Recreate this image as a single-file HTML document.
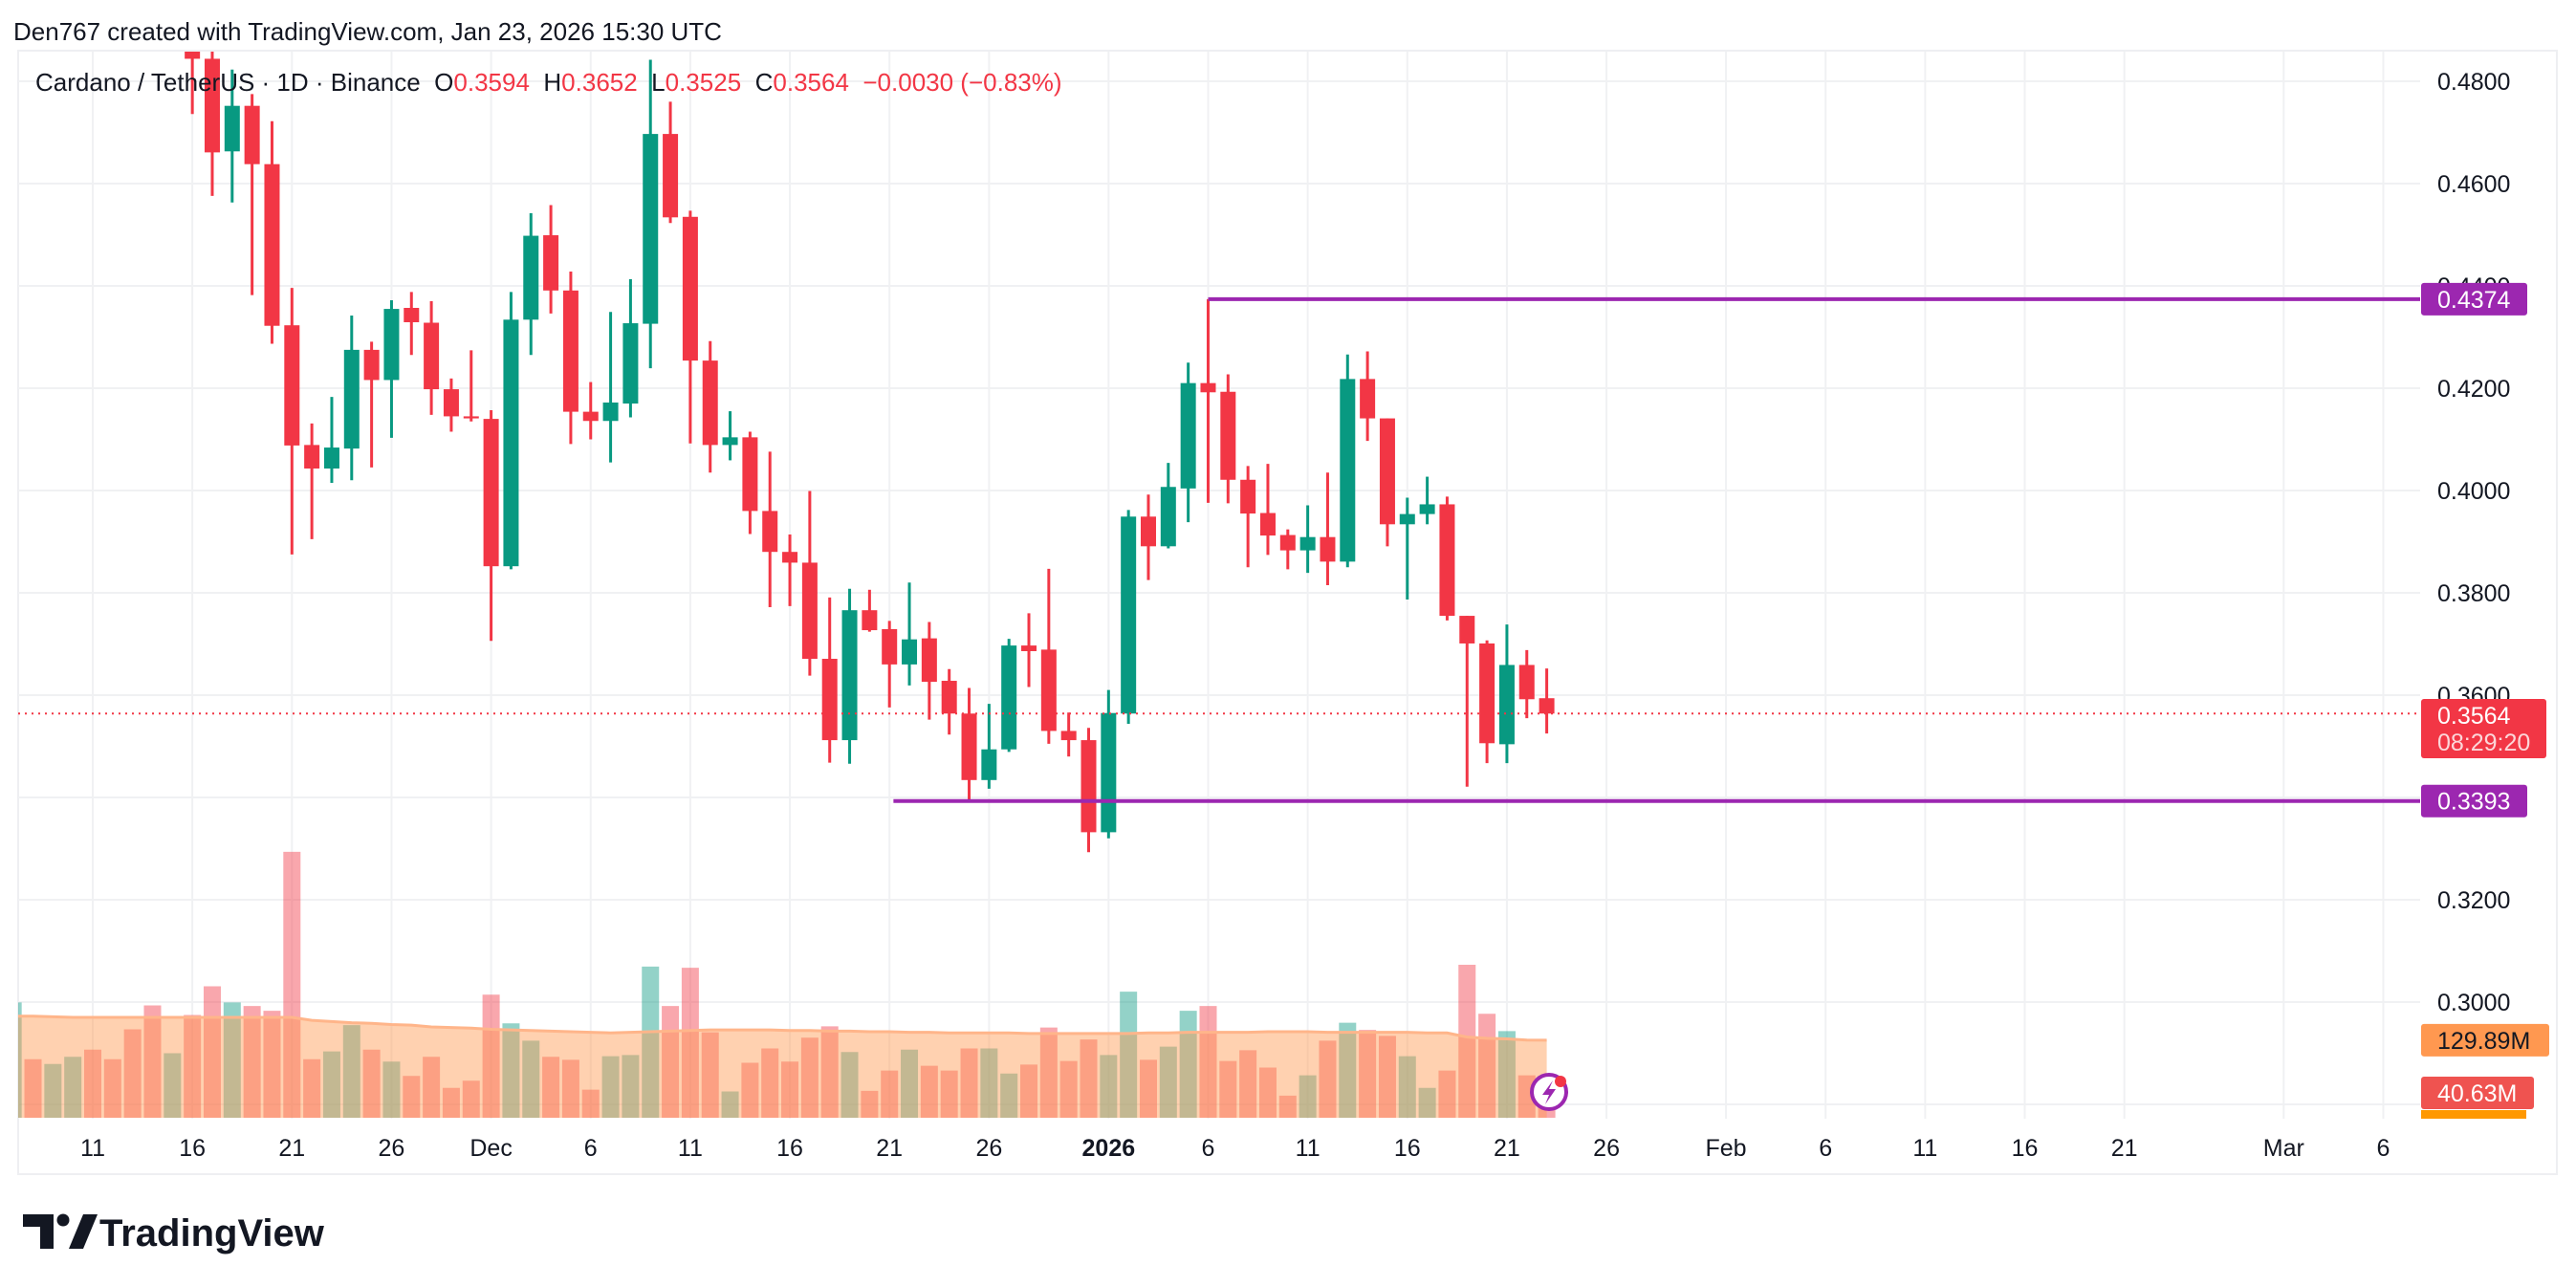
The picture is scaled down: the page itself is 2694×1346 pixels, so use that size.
<!DOCTYPE html>
<html><head><meta charset="utf-8">
<style>
html,body{margin:0;padding:0;background:#fff;}
svg{display:block;font-family:"Liberation Sans",sans-serif;}
.pre{white-space:pre;}
</style></head>
<body>
<svg id="chart" width="2694" height="1346" viewBox="0 0 2694 1346" xmlns="http://www.w3.org/2000/svg">
<defs><clipPath id="plotClip"><rect x="19" y="54" width="2512" height="1116"/></clipPath></defs>
<rect x="0" y="0" width="2694" height="1346" fill="#fff"/>
<text x="14" y="42" font-size="26" fill="#131722">Den767 created with TradingView.com, Jan 23, 2026 15:30 UTC</text>
<rect x="19" y="53" width="2655" height="1175" fill="none" stroke="#eeeff2" stroke-width="2"/>
<g id="grid"></g>
<g id="vol" clip-path="url(#plotClip)"></g>
<g id="candles" clip-path="url(#plotClip)"></g>
<g id="lines"></g>
<g id="yaxis"></g>
<g id="xaxis"></g>
<text class="pre" x="37" y="95" font-size="26" fill="#131722">Cardano / TetherUS · 1D · Binance  O<tspan fill="#F23645">0.3594</tspan>  H<tspan fill="#F23645">0.3652</tspan>  L<tspan fill="#F23645">0.3525</tspan>  C<tspan fill="#F23645">0.3564</tspan>  <tspan fill="#F23645">−0.0030 (−0.83%)</tspan></text>
<g>
<circle cx="1620" cy="1142" r="18" fill="#fff" stroke="#9C27B0" stroke-width="4"/>
<path d="M1624 1130 L1613 1145 L1620 1145 L1616 1155 L1627 1139 L1620 1139 Z" fill="#9C27B0"/>
<circle cx="1632" cy="1131" r="6" fill="#F23645"/>
</g>
<g>
<path d="M24 1270 h32 v36 h-14 v-23 h-18 z" fill="#131722"/>
<circle cx="66" cy="1276" r="6.5" fill="#131722"/>
<path d="M72 1306 l15 -36 h15 l-15 36 z" fill="#131722"/>
<text x="104" y="1303" font-size="40" font-weight="bold" fill="#131722">TradingView</text>
</g>
</svg>
<script>
// Data: day 0 = Nov 7, 2025
const opens  = [0.53,0.54,0.53,0.535,0.545,0.54,0.53,0.525,0.52,
 0.4900,0.4844,0.4663,0.4752,0.4638,0.4323,0.4089,0.4043,0.4082,0.4275,0.4216,0.4357,0.4328,0.4198,0.4145,
 0.4140,0.3852,0.4334,0.4499,0.4391,0.4154,0.4136,0.4170,0.4326,0.4697,0.4535,0.4254,0.4089,0.4104,0.3960,0.3880,0.3859,0.3671,0.3512,0.3766,0.3729,0.3660,0.3711,0.3628,0.3564,0.3434,0.3494,0.3697,0.3689,0.3530,0.3512,
 0.3332,0.3564,0.3949,0.3891,0.4004,0.4210,0.4193,0.4021,0.3956,0.3913,0.3883,0.3909,0.3861,0.4218,0.4141,0.3934,0.3954,0.3973,0.3755,0.3701,0.3504,0.3659,0.3594];
const highs  = [0.55,0.55,0.545,0.55,0.55,0.545,0.535,0.53,0.53,
 0.4950,0.4869,0.4823,0.4775,0.4722,0.4396,0.4131,0.4183,0.4342,0.4291,0.4372,0.4388,0.4370,0.4219,0.4274,
 0.4157,0.4388,0.4542,0.4558,0.4428,0.4212,0.4349,0.4413,0.4842,0.4760,0.4547,0.4292,0.4155,0.4115,0.4076,0.3914,0.3999,0.3791,0.3808,0.3806,0.3745,0.3820,0.3743,0.3651,0.3614,0.3583,0.3710,0.3760,0.3847,0.3566,0.3536,
 0.3610,0.3962,0.3992,0.4054,0.4250,0.4374,0.4227,0.4048,0.4052,0.3924,0.3971,0.4035,0.4266,0.4272,0.4141,0.3986,0.4027,0.3988,0.3755,0.3707,0.3738,0.3688,0.3652];
const lows   = [0.525,0.53,0.525,0.53,0.535,0.53,0.52,0.515,0.51,
 0.4736,0.4576,0.4563,0.4382,0.4287,0.3875,0.3905,0.4015,0.4020,0.4045,0.4103,0.4265,0.4148,0.4115,0.4135,
 0.3706,0.3846,0.4265,0.4346,0.4091,0.4100,0.4055,0.4143,0.4239,0.4523,0.4092,0.4035,0.4059,0.3915,0.3772,0.3774,0.3638,0.3468,0.3466,0.3724,0.3576,0.3619,0.3552,0.3523,0.3393,0.3417,0.3489,0.3616,0.3505,0.3480,0.3293,
 0.3320,0.3544,0.3825,0.3887,0.3938,0.3976,0.3975,0.3850,0.3874,0.3846,0.3839,0.3815,0.3850,0.4097,0.3891,0.3787,0.3934,0.3746,0.3421,0.3467,0.3467,0.3555,0.3525];
const closes = [0.54,0.53,0.535,0.545,0.54,0.53,0.525,0.52,0.53,
 0.4844,0.4661,0.4752,0.4638,0.4322,0.4088,0.4043,0.4084,0.4275,0.4216,0.4355,0.4329,0.4198,0.4145,0.4141,
 0.3852,0.4334,0.4498,0.4391,0.4154,0.4136,0.4172,0.4327,0.4697,0.4534,0.4254,0.4089,0.4104,0.3960,0.3880,0.3859,0.3671,0.3512,0.3766,0.3727,0.3660,0.3709,0.3626,0.3564,0.3434,0.3494,0.3697,0.3686,0.3530,0.3512,0.3332,
 0.3565,0.3949,0.3891,0.4007,0.4210,0.4192,0.4021,0.3955,0.3912,0.3883,0.3909,0.3861,0.4218,0.4141,0.3934,0.3954,0.3973,0.3755,0.3701,0.3506,0.3659,0.3592,0.3564];
const volumes = [193,98,90,102,114,98,148,188,108,172,220,193,187,179,445,98,111,155,114,94,70,102,50,62,
 206,158,129,102,97,47,103,105,253,187,251,143,44,92,116,94,134,153,110,45,79,114,87,79,116,116,74,89,151,95,131,
 105,211,97,119,179,187,95,113,84,37,71,129,159,147,137,103,50,79,256,174,145,71,41];
const volMA = [170,170,169,168,168,168,168,168,168,168,168,168,168,168,168,163,161,159,158,156,155,152,151,150,
 148,147,146,145,144,143,142,143,144,145,146,147,147,147,147,146,146,145,145,144,144,143,143,142,142,142,142,141,141,141,141,
 141,141,142,142,143,143,143,143,144,144,144,143,143,143,143,143,142,142,135,133,132,130,129.89];
const priceTicks = [0.30,0.32,0.34,0.36,0.38,0.40,0.42,0.44,0.46,0.48];
const dateLabels = ["11","16","21","26","Dec","6","11","16","21","26","2026","6","11","16","21","26","Feb","6","11","16","21","Mar","6"];
const dateDays   = [4,9,14,19,24,29,34,39,44,49,55,60,65,70,75,80,86,91,96,101,106,114,119];
const levelHigh = 0.4374, levelLow = 0.3393, lastPrice = 0.3564;
const levelHighStart = 60, levelLowStart = 44.2;

const NS = "http://www.w3.org/2000/svg";
const yP = p => 941 - (p - 0.32) * 5350;
const xD = d => 97 + (d - 4) * 20.83;
const VBASE = 1169, vScale = 1/1.6;
const yV = v => VBASE - v * vScale;
function mk(tag, attrs, parent){ const e=document.createElementNS(NS,tag); for(const k in attrs) e.setAttribute(k,attrs[k]); parent.appendChild(e); return e; }

const grid = document.getElementById('grid');
[...priceTicks, 0.28].forEach(p=>{
  const l = mk('line',{x1:19,x2:2531,y1:yP(p),y2:yP(p),stroke:'#f0f1f3','stroke-width':2},grid);
  
  
});
dateDays.forEach(d=>{
  const l = mk('line',{x1:xD(d),x2:xD(d),y1:54,y2:1170,stroke:'#f0f1f3','stroke-width':2},grid);
  
  
});

const vol = document.getElementById('vol');
volumes.forEach((v,i)=>{
  const up = closes[i] >= opens[i];
  const r = mk('rect',{x:xD(i)-9,y:yV(v),width:18,height:v*vScale,fill:up?'rgba(8,153,129,0.44)':'rgba(242,54,69,0.44)'},vol);
  
  
});
let ad = `M${xD(0)-9},${VBASE}`;
volMA.forEach((m,i)=>{ ad += ` L${xD(i)},${yV(m)}`; });
ad += ` L${xD(volMA.length-1)},${VBASE} Z`;
const area = mk('path',{d:ad,fill:'rgba(255,152,80,0.45)'},vol);


let ld = '';
volMA.forEach((m,i)=>{ ld += (i?' L':'M')+xD(i)+','+yV(m); });
const mal = mk('path',{d:ld,fill:'none',stroke:'#ffb58a','stroke-width':3},vol);



const cg = document.getElementById('candles');
opens.forEach((o,i)=>{
  const c = closes[i], up = c >= o, col = up ? '#089981' : '#F23645';
  const x = xD(i);
  const g = mk('g',{},cg);
  
  
  mk('line',{x1:x,x2:x,y1:yP(highs[i]),y2:yP(lows[i]),stroke:col,'stroke-width':3},g);
  const t = yP(Math.max(o,c)), b = yP(Math.min(o,c));
  mk('rect',{x:x-8,y:t,width:16,height:Math.max(2,b-t),fill:col},g);
});

const lg = document.getElementById('lines');
const lastL = mk('line',{x1:19,x2:2531,y1:yP(lastPrice),y2:yP(lastPrice),stroke:'#F23645','stroke-width':2,'stroke-dasharray':'2 5'},lg);


const hl = mk('line',{x1:xD(levelHighStart),x2:2531,y1:yP(levelHigh),y2:yP(levelHigh),stroke:'#9C27B0','stroke-width':4},lg);


const ll = mk('line',{x1:xD(levelLowStart),x2:2531,y1:yP(levelLow),y2:yP(levelLow),stroke:'#9C27B0','stroke-width':4},lg);



const ya = document.getElementById('yaxis');
priceTicks.forEach(p=>{
  const t = mk('text',{x:2549,y:yP(p)+9,'font-size':25,fill:'#131722'},ya);
  t.textContent = p.toFixed(4);
  
  
});
function label(y,h,w,fill,txt,txtCol,name){
  const g = mk('g',{},ya);
  
  
  mk('rect',{x:2532,y:y,width:w,height:h,rx:3,fill:fill},g);
  const t = mk('text',{x:2549,y:y+26,'font-size':25,fill:txtCol},g);
  t.textContent = txt;
  return g;
}
label(yP(levelHigh)-17,34,111,'#9C27B0',levelHigh.toFixed(4),'#fff','resistance-price-label');
label(yP(levelLow)-17,34,111,'#9C27B0',levelLow.toFixed(4),'#fff','support-price-label');
const lp = label(731,62,131,'#F23645',lastPrice.toFixed(4),'#fff','last-price-label');
const cd = mk('text',{x:2549,y:785,'font-size':25,fill:'#fcd6d9'},lp);
cd.textContent = '08:29:20';


label(yV(volMA[volMA.length-1])-17,34,134,'#FF9850','129.89M','#131722','volume-ma-label');
label(1126,34,118,'#EF5350','40.63M','#fff','volume-label');
const ob = mk('rect',{x:2532,y:1161,width:110,height:9,fill:'#FF9800'},ya);



const xa = document.getElementById('xaxis');
dateLabels.forEach((s,i)=>{
  const t = mk('text',{x:xD(dateDays[i]),y:1209,'font-size':25,fill:'#131722','text-anchor':'middle'},xa);
  if(s==='2026') t.setAttribute('font-weight','bold');
  t.textContent = s;
  
  
});
</script>
</body></html>
